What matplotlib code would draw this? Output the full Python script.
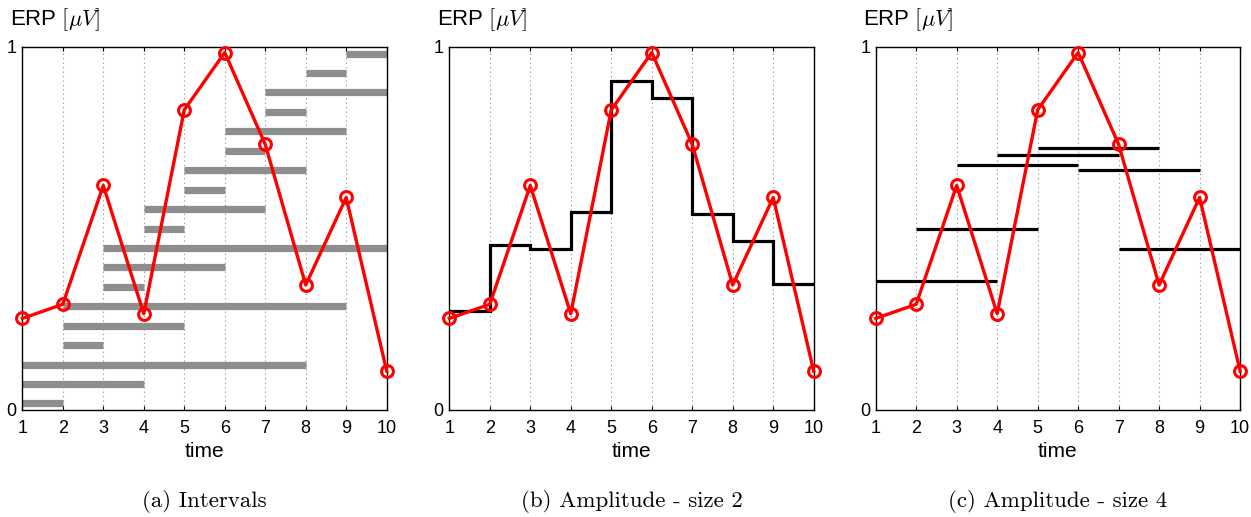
import numpy as np
import matplotlib
matplotlib.use('Agg')
import matplotlib.pyplot as plt

plt.rcParams['font.family'] = ['Liberation Sans', 'DejaVu Sans']
plt.rcParams['mathtext.fontset'] = 'cm'

# ERP signal (red)
t = [1, 2, 3, 4, 5, 6, 7, 8, 9, 10]
erp = [0.252, 0.291, 0.618, 0.265, 0.826, 0.984, 0.731, 0.344, 0.585, 0.107]

# (a) intervals, bottom to top
iv_start = [1, 1, 1, 2, 2, 2, 3, 3, 3, 4, 4, 5, 5, 6, 6, 7, 7, 8, 9]
iv_end = [2, 4, 8, 3, 5, 9, 4, 6, 10, 5, 7, 6, 8, 7, 9, 8, 10, 9, 10]

# (b) amplitude, window size 2 (one value per unit step)
amp2 = [0.272, 0.454, 0.442, 0.546, 0.906, 0.858, 0.539, 0.466, 0.346]

# (c) amplitude, window size 4 (segments start..start+3)
amp4_start = [1, 2, 3, 4, 5, 6, 7]
amp4 = [0.356, 0.499, 0.673, 0.702, 0.721, 0.661, 0.442]

captions = ['(a) Intervals', '(b) Amplitude - size 2', '(c) Amplitude - size 4']

W, H = 1251, 517
fig = plt.figure(figsize=(W / 100, H / 100), dpi=100)

lefts = [22.3, 449.3, 875.7]
axw = 364.4
axb, axt = 410.0, 46.7

axes = []
for i, l in enumerate(lefts):
    ax = fig.add_axes([l / W, (H - axb) / H, axw / W, (axb - axt) / H])
    axes.append(ax)
    ax.set_xlim(1, 10)
    ax.set_ylim(0, 1)
    ax.set_xticks(t)
    ax.set_yticks([0, 1])
    for x in t[1:-1]:
        ax.axvline(x, color='#8a8a8a', lw=0.8, ls=(0, (1, 3)), zorder=0)
    ax.tick_params(direction='in', length=3, width=0.8, top=True, right=False,
                   labelsize=13, pad=7, colors='black')
    ax.tick_params(axis='y', length=0, pad=4)
    for s in ax.spines.values():
        s.set_linewidth(1.0)
    ax.set_xlabel('time', fontsize=15, labelpad=4)
    ax.text(-0.035, 1.075, r'ERP $[\mu V]$', transform=ax.transAxes,
            fontsize=16, ha='left', va='center')
    ax.text(0.5, -0.253, captions[i], transform=ax.transAxes, fontsize=16.5,
            family='cmr10', ha='center', va='center')

# (a) interval bars
ax = axes[0]
rows = np.arange(len(iv_start))
ybar = 0.018 + rows * 0.0535
ax.hlines(ybar, iv_start, iv_end, color='#8e8e8e', lw=5.2, capstyle='butt', zorder=1)

# (b) step amplitude
ax = axes[1]
ax.stairs(amp2, np.arange(1, 11), color='black', lw=2.3, baseline=None, zorder=1)

# (c) size-4 segments
ax = axes[2]
a4s = np.array(amp4_start)
ax.hlines(amp4, a4s, a4s + 3, color='black', lw=2.3, zorder=1)

for ax in axes:
    ax.plot(t, erp, color='#ff0000', lw=2.4, marker='o', ms=8.5, mfc='none',
            mec='#ff0000', mew=2.2, zorder=3, clip_on=False)

fig.savefig('out.png', dpi=100)
